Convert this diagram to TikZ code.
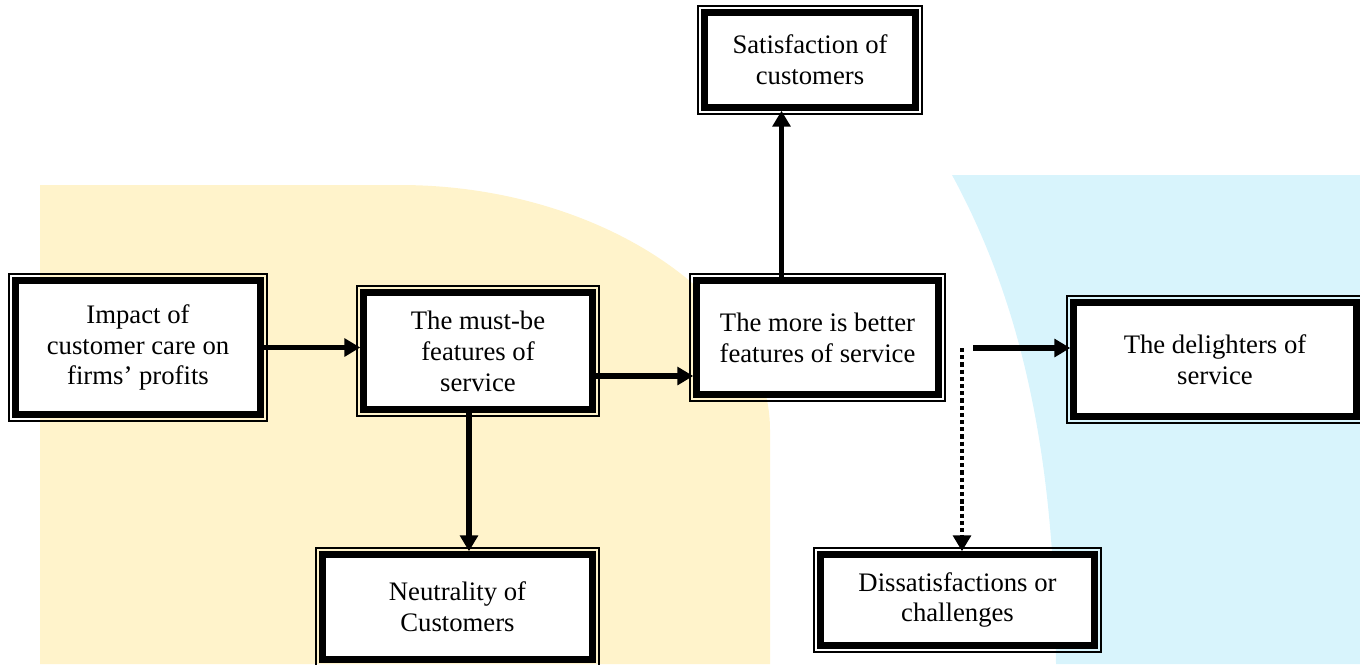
\documentclass[tikz,border=0pt]{standalone}
\usepackage{fontspec}
\setmainfont{Liberation Serif}
\usepackage{color, xcolor}
\usepackage{tikz}
\usetikzlibrary{
	calc,
	arrows.meta,
	positioning
	}
\definecolor{jaune-fond}{HTML}{FFF3CB}
\definecolor{bleu-fond}{HTML}{D8F4FC}
\tikzstyle{boite-std}=[draw,fill=white,line width=4pt,inner sep=0pt,align=center,font=\fontsize{15.2pt}{17.6pt}\selectfont]
\tikzstyle{cadre-std}=[draw,line width=1.1pt]
\tikzstyle{fleche-std}=[line width=3pt,-{Triangle[length=9pt,width=10pt]}]
\tikzstyle{fleche-pointillee}=[line width=2.4pt,dash pattern=on 2.4pt off 1.7pt,-{Triangle[length=9pt,width=10pt]}]

\begin{document}
\begin{tikzpicture}[x=0.02cm,y=-0.02cm]
\useasboundingbox (0,0) rectangle (1360,664);
\clip (0,0) rectangle (1360,664);

% fond
\fill[jaune-fond] (40,664) -- (40,185) -- (400,185) .. controls (600,185) and (770,300) .. (770,430) -- (770,664) -- cycle;
\fill[bleu-fond] (952,175) -- (1360,175) -- (1360,664) -- (1056,664) .. controls (1055,450) and (1020,300) .. (952,175);

% boites
\node[boite-std,minimum width=4.89cm,minimum height=2.67cm] (impact) at (138,347.5) {Impact of\\customer care on\\firms' profits};
\node[boite-std,minimum width=4.57cm,minimum height=2.33cm] (mustbe) at (478,351) {The must-be\\features of\\service};
\node[boite-std,minimum width=4.83cm,minimum height=2.27cm] (more) at (817.5,337.5) {The more is better\\features of service};
\node[boite-std,minimum width=4.21cm,minimum height=1.89cm] (satisf) at (810,60) {Satisfaction of\\customers};
\node[boite-std,minimum width=5.65cm,minimum height=2.27cm] (delight) at (1215,359.5) {The delighters of\\service};
\node[boite-std,minimum width=5.39cm,minimum height=2.09cm] (neutral) at (457.5,607) {Neutrality of\\Customers};
\node[boite-std,minimum width=5.47cm,minimum height=1.81cm] (dissat) at (957.5,600) {Dissatisfactions or\\challenges};

\foreach \n in {impact,mustbe,more,satisf,delight,neutral,dissat}
  \draw[cadre-std] ($(\n.south west)+(-1.9pt,-1.9pt)$) rectangle ($(\n.north east)+(1.9pt,1.9pt)$);

% fleches
\coordinate (depart) at (973,348);
\coordinate (depart-pointille) at (962,348);
\draw[fleche-std] (impact.east) -- (impact.east -| mustbe.west);
\draw[fleche-std] ($(mustbe.east)+(0,25)$) -- ($(mustbe.east -| more.west)+(0,25)$);
\draw[fleche-std] ([xshift=-0.72cm]more.north) -- ([xshift=-0.72cm]more.north |- satisf.south);
\draw[fleche-std] (depart) -- (depart -| delight.west);
\draw[fleche-pointillee] (depart-pointille) -- (depart-pointille |- dissat.north);
\draw[fleche-std] ([xshift=-0.18cm]mustbe.south) -- ([xshift=-0.18cm]mustbe.south |- neutral.north);
\end{tikzpicture}
\end{document}
